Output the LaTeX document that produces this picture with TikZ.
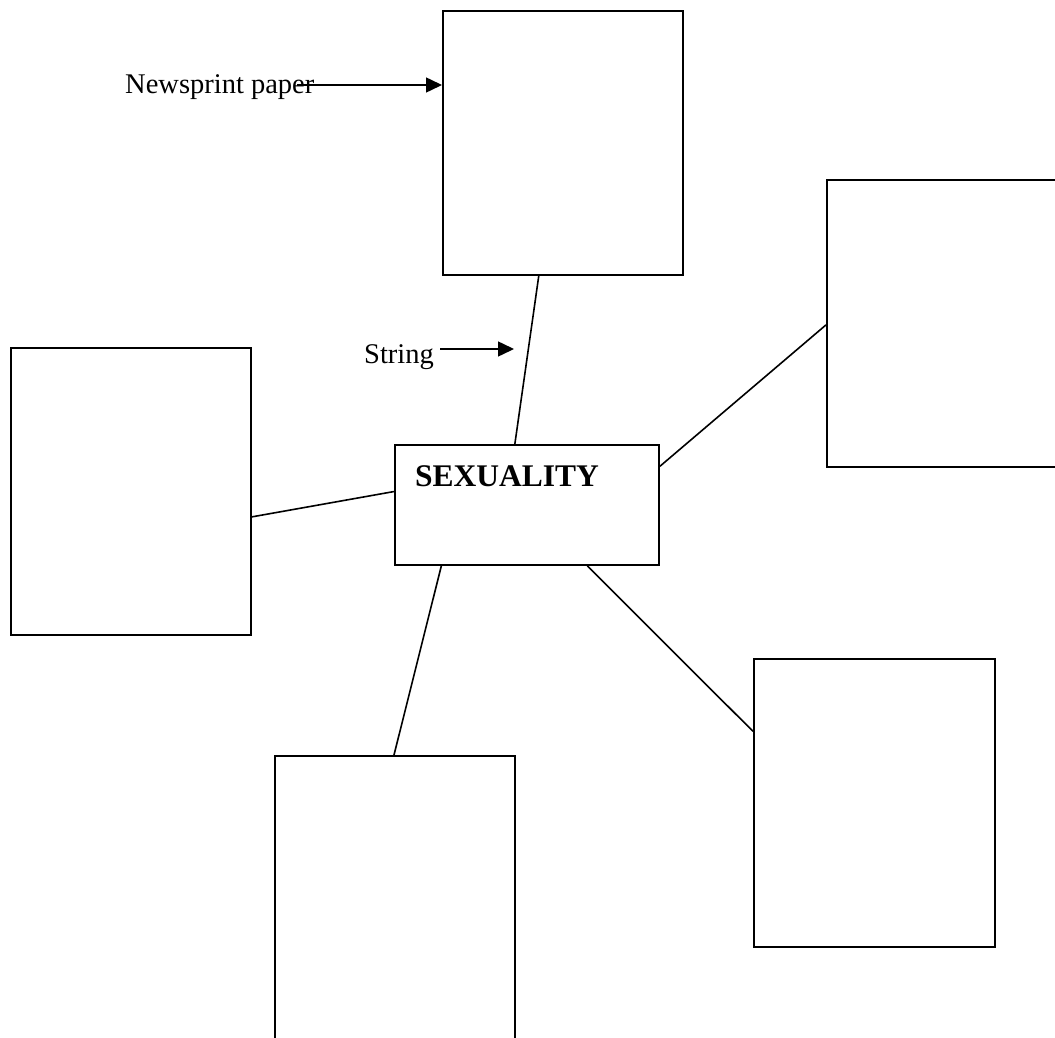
\documentclass[tikz,border=0pt]{standalone}
\usepackage{fontspec}
\setmainfont{Liberation Serif}
\usetikzlibrary{calc,arrows.meta}
\begin{document}
\begin{tikzpicture}[x=1pt,y=-1pt,
  sheet/.style={draw,line width=1.9pt,rectangle,inner sep=0pt,anchor=north west},
  cord/.style={line width=1.6pt},
  pointer/.style={line width=1.5pt,-{Triangle[length=16pt,width=15pt]}},
  note/.style={inner sep=0pt,anchor=base west,font=\fontsize{28.5}{34}\selectfont}]
  \useasboundingbox (0,0) rectangle (1055,1038);
  % newsprint sheets
  \node[sheet,minimum width=240pt,minimum height=264pt] (top) at (442,10) {};
  \node[sheet,minimum width=240pt,minimum height=287pt] (right) at (826,179) {};
  \node[sheet,minimum width=240pt,minimum height=287pt] (left) at (10,347) {};
  \node[sheet,minimum width=241pt,minimum height=288pt] (lowright) at (753,658) {};
  \node[sheet,minimum width=240pt,minimum height=300pt] (low) at (274,755) {};
  % central topic card
  \node[sheet,minimum width=264pt,minimum height=120pt] (centre) at (394,444) {};
  \node[inner sep=0pt,anchor=base west,font=\fontsize{31.5}{36}\selectfont\bfseries] (topic) at (415,486) {SEXUALITY};
  % string attachment points
  \coordinate (t1) at ($(top.south west)!0.4!(top.south east)$);
  \coordinate (c1) at ($(centre.north west)!0.4545!(centre.north east)$);
  \coordinate (c2) at ($(centre.north east)!0.183!(centre.south east)$);
  \coordinate (r1) at ($(right.north west)!0.505!(right.south west)$);
  \coordinate (c3) at ($(centre.north west)!0.39!(centre.south west)$);
  \coordinate (l1) at ($(left.north east)!0.588!(left.south east)$);
  \coordinate (c4) at ($(centre.south west)!0.178!(centre.south east)$);
  \coordinate (b1) at ($(low.north west)+(120,0)$);
  \coordinate (c5) at ($(centre.south west)!0.727!(centre.south east)$);
  \coordinate (br1) at ($(lowright.north west)!0.253!(lowright.south west)$);
  \draw[cord] (t1) -- (c1);
  \draw[cord] (c2) -- (r1);
  \draw[cord] (c3) -- (l1);
  \draw[cord] (c4) -- (b1);
  \draw[cord] (c5) -- (br1);
  % labels with pointers
  \node[note] (paper) at (125,94) {Newsprint paper};
  \coordinate (p0) at (297,85);
  \coordinate (p1) at ($(top.north west)+(0,75)$);
  \draw[pointer] (p0) -- (p1);
  \node[note] (string) at (364,363) {String};
  \coordinate (s0) at (440,349);
  \coordinate (s1) at (514,349);
  \draw[pointer] (s0) -- (s1);
\end{tikzpicture}
\end{document}
